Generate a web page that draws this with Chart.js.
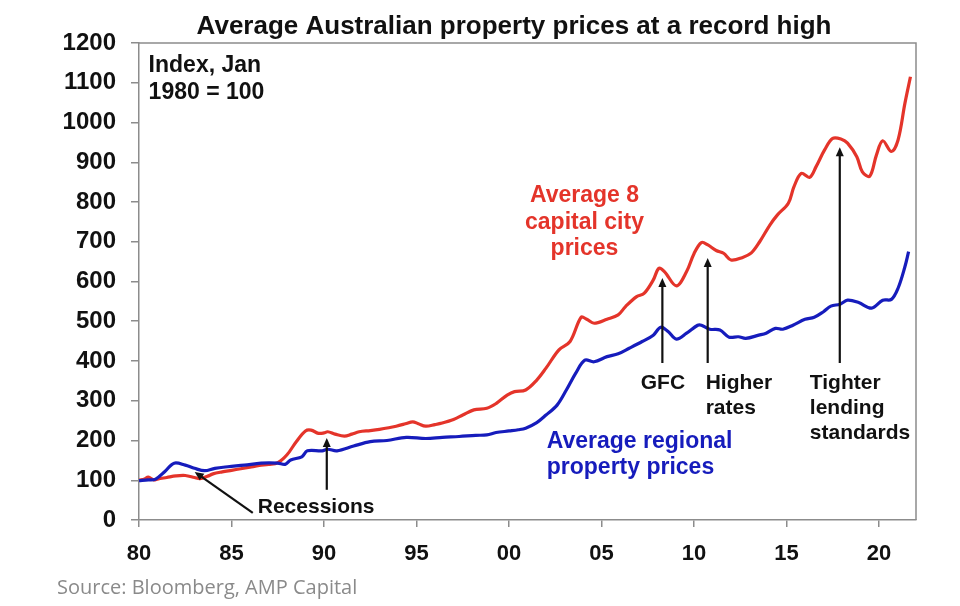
<!DOCTYPE html>
<html>
<head>
<meta charset="utf-8">
<style>
  html, body { margin: 0; padding: 0; background: #fff; }
  #wrap { width: 960px; height: 606px; }
</style>
<script src="https://cdn.jsdelivr.net/npm/chart.js@4"></script>
</head>
<body>
<div id="wrap"><canvas id="propChart" width="960" height="606"></canvas></div>
<script>
// Capital city index, x = year
const capYears = [1980.0, 1980.3, 1980.5, 1980.8, 1981.0, 1981.5, 1982.0, 1982.5, 1983.0, 1983.3, 1983.7, 1984.0, 1984.5,
  1985.0, 1985.5, 1986.0, 1986.5, 1987.0, 1987.5, 1988.0, 1988.5, 1989.0, 1989.3, 1989.7, 1990.0, 1990.2, 1990.6,
  1991.1, 1991.5, 1991.9, 1992.5, 1993.0, 1993.5, 1993.9, 1994.4, 1994.8, 1995.1, 1995.5, 1996.0, 1996.3, 1997.0,
  1997.5, 1998.1, 1998.8, 1999.3, 1999.9, 2000.3, 2000.9, 2001.5, 2002.0, 2002.7, 2003.3, 2003.9, 2004.2, 2004.6,
  2005.3, 2005.9, 2006.3, 2006.9, 2007.3, 2007.8, 2008.1, 2008.4, 2009.05, 2009.6, 2010.0, 2010.4, 2010.75, 2011.2,
  2011.6, 2012.0, 2012.6, 2013.1, 2013.55, 2014.1, 2014.5, 2015.1, 2015.4, 2015.8, 2016.25, 2016.6, 2017.06, 2017.5,
  2017.97, 2018.3, 2018.8, 2019.1, 2019.5, 2019.86, 2020.2, 2020.67, 2021.03, 2021.4, 2021.7];
const capValues = [100, 103, 108, 101, 103, 107, 111, 112, 107, 104, 110, 116, 121,
  125, 129, 133, 137, 140, 144, 164, 197, 224, 226, 218, 219, 222, 216,
  211, 216, 222, 225, 228, 232, 236, 242, 247, 242, 236, 240, 243, 253,
  264, 277, 281, 293, 314, 323, 327, 352, 382, 428, 449, 510, 505, 495,
  505, 516, 537, 562, 570, 604, 633, 625, 589, 625, 670, 698, 692, 678,
  671, 654, 660, 672, 700, 742, 767, 797, 838, 872, 862, 889, 931, 960,
  958, 948, 914, 876, 865, 918, 954, 927, 956, 1048, 1115];

// Regional index
const regYears = [1980.0, 1980.5, 1980.9, 1981.4, 1981.9, 1982.5, 1983.0, 1983.55, 1984.1, 1984.8, 1985.7, 1986.6,
  1987.5, 1987.9, 1988.2, 1988.8, 1989.1, 1989.9, 1990.2, 1990.7, 1991.6, 1992.5, 1993.4, 1994.45, 1995.5, 1996.4,
  1997.3, 1998.2, 1998.8, 1999.3, 2000.0, 2000.5, 2000.9, 2001.5, 2002.0, 2002.6, 2003.1, 2003.6, 2004.1, 2004.6,
  2005.3, 2005.9, 2006.5, 2007.2, 2007.8, 2008.2, 2008.6, 2009.05, 2009.6, 2010.2, 2010.4, 2010.85, 2011.4, 2011.9,
  2012.4, 2012.8, 2013.5, 2013.9, 2014.4, 2014.8, 2015.35, 2016.0, 2016.5, 2017.0, 2017.4, 2017.9, 2018.3, 2018.9,
  2019.6, 2020.2, 2020.67, 2021.03, 2021.4, 2021.6];
const regValues = [99, 101, 103, 122, 143, 138, 130, 124, 130, 134, 138, 143,
  143, 140, 151, 159, 174, 174, 178, 174, 186, 197, 200, 208, 205, 208,
  210, 213, 214, 220, 224, 227, 231, 245, 264, 289, 327, 369, 402, 398,
  411, 418, 432, 449, 465, 485, 474, 455, 470, 490, 490, 480, 478, 460,
  461, 457, 465, 470, 482, 480, 490, 505, 510, 524, 538, 543, 553, 547,
  533, 553, 555, 583, 637, 675];

const xTicks = [1980, 1985, 1990, 1995, 2000, 2005, 2010, 2015, 2020];

const RED = 'rgb(228, 52, 42)';
const BLUE = 'rgb(22, 28, 188)';
const FONT = '"Liberation Sans", Arial, sans-serif';

// text notes, positioned in data units
const notes = [
  { lines: ['Index, Jan', '1980 = 100'], x: 1980.52, y: 1142, color: '#111', size: 23, align: 'left', lh: 27 },
  { lines: ['Average 8', 'capital city', 'prices'], x: 2004.08, y: 815, color: RED, size: 23, align: 'center', lh: 26.5 },
  { lines: ['Average regional', 'property prices'], x: 2002.04, y: 196, color: BLUE, size: 23, align: 'left', lh: 26 },
  { lines: ['GFC'], x: 2007.12, y: 345, color: '#111', size: 21, align: 'left', lh: 25 },
  { lines: ['Higher', 'rates'], x: 2010.63, y: 345, color: '#111', size: 21, align: 'left', lh: 25 },
  { lines: ['Tighter', 'lending', 'standards'], x: 2016.26, y: 345, color: '#111', size: 21, align: 'left', lh: 25 },
  { lines: ['Recessions'], x: 1986.42, y: 33, color: '#111', size: 21, align: 'left', lh: 25 }
];

// arrows: from tail to head
const arrows = [
  { x0: 1986.15, y0: 18, x1: 1983.01, y1: 121 },
  { x0: 1990.15, y0: 76, x1: 1990.15, y1: 206 },
  { x0: 2008.29, y0: 395, x1: 2008.29, y1: 609 },
  { x0: 2010.74, y0: 395, x1: 2010.74, y1: 659 },
  { x0: 2017.88, y0: 395, x1: 2017.88, y1: 938 }
];

const extras = {
  id: 'extras',
  afterDraw(chart) {
    const { ctx, chartArea: a, scales: { x, y } } = chart;
    ctx.save();
    // frame round plot
    ctx.strokeStyle = '#8c8c8c';
    ctx.lineWidth = 1.5;
    ctx.beginPath();
    ctx.moveTo(a.left, a.top);
    ctx.lineTo(a.right, a.top);
    ctx.lineTo(a.right, a.bottom);
    ctx.stroke();

    // title
    ctx.fillStyle = '#111';
    ctx.font = 'bold 26px ' + FONT;
    ctx.textAlign = 'center';
    ctx.textBaseline = 'alphabetic';
    ctx.fillText('Average Australian property prices at a record high', 514, 34);

    // source
    ctx.fillStyle = '#8a8a8a';
    ctx.font = '20px "Open Sans", sans-serif';
    ctx.textAlign = 'left';
    ctx.textBaseline = 'middle';
    ctx.fillText('Source: Bloomberg, AMP Capital', 57, 588);

    // notes
    notes.forEach(n => {
      ctx.fillStyle = n.color;
      ctx.font = 'bold ' + n.size + 'px ' + FONT;
      ctx.textAlign = n.align;
      ctx.textBaseline = 'middle';
      const px = x.getPixelForValue(n.x);
      const py = y.getPixelForValue(n.y);
      n.lines.forEach((t, i) => ctx.fillText(t, px, py + i * n.lh));
    });

    // arrows
    ctx.strokeStyle = '#111';
    ctx.fillStyle = '#111';
    ctx.lineWidth = 2.2;
    arrows.forEach(ar => {
      const sx = x.getPixelForValue(ar.x0), sy = y.getPixelForValue(ar.y0);
      const ex = x.getPixelForValue(ar.x1), ey = y.getPixelForValue(ar.y1);
      const ang = Math.atan2(ey - sy, ex - sx);
      const hl = 9, hw = 4;
      ctx.beginPath();
      ctx.moveTo(sx, sy);
      ctx.lineTo(ex - Math.cos(ang) * hl * 0.8, ey - Math.sin(ang) * hl * 0.8);
      ctx.stroke();
      ctx.beginPath();
      ctx.moveTo(ex, ey);
      ctx.lineTo(ex - Math.cos(ang) * hl - Math.sin(ang) * hw, ey - Math.sin(ang) * hl + Math.cos(ang) * hw);
      ctx.lineTo(ex - Math.cos(ang) * hl + Math.sin(ang) * hw, ey - Math.sin(ang) * hl - Math.cos(ang) * hw);
      ctx.closePath();
      ctx.fill();
    });
    ctx.restore();
  }
};

const ctx = document.getElementById('propChart').getContext('2d');
const chart = new Chart(ctx, {
  type: 'line',
  data: {
    datasets: [
      {
        label: 'Average regional property prices',
        data: regYears.map((yr, i) => ({ x: yr, y: regValues[i] })),
        borderColor: BLUE,
        borderWidth: 3.2,
        pointRadius: 0,
        tension: 0.35
      },
      {
        label: 'Average 8 capital city prices',
        data: capYears.map((yr, i) => ({ x: yr, y: capValues[i] })),
        borderColor: RED,
        borderWidth: 3.2,
        pointRadius: 0,
        tension: 0.35
      }
    ]
  },
  options: {
    responsive: false,
    animation: false,
    devicePixelRatio: 1,
    layout: { padding: { top: 43, right: 44, bottom: 0, left: 0 } },
    plugins: {
      legend: { display: false },
      title: { display: false },
      tooltip: { enabled: false }
    },
    scales: {
      x: {
        type: 'linear',
        min: 1980,
        max: 2022,
        afterFit: s => { s.height = 86; },
        afterBuildTicks: s => { s.ticks = xTicks.map(v => ({ value: v })); },
        border: { color: '#8c8c8c', width: 1.5 },
        grid: { drawOnChartArea: false, tickLength: 7, color: '#8c8c8c', lineWidth: 1.5 },
        ticks: {
          padding: 14,
          color: '#111',
          font: { family: FONT, size: 22, weight: 'bold' },
          callback: v => String(v % 100).padStart(2, '0')
        }
      },
      y: {
        min: 0,
        max: 1200,
        afterFit: s => { s.width = 139; },
        border: { color: '#8c8c8c', width: 1.5 },
        grid: { drawOnChartArea: false, tickLength: 8, color: '#8c8c8c', lineWidth: 1.5 },
        ticks: {
          stepSize: 100,
          padding: 15,
          color: '#111',
          font: { family: FONT, size: 24, weight: 'bold' },
          callback: v => String(v)
        }
      }
    }
  },
  plugins: [extras]
});
</script>
</body>
</html>
